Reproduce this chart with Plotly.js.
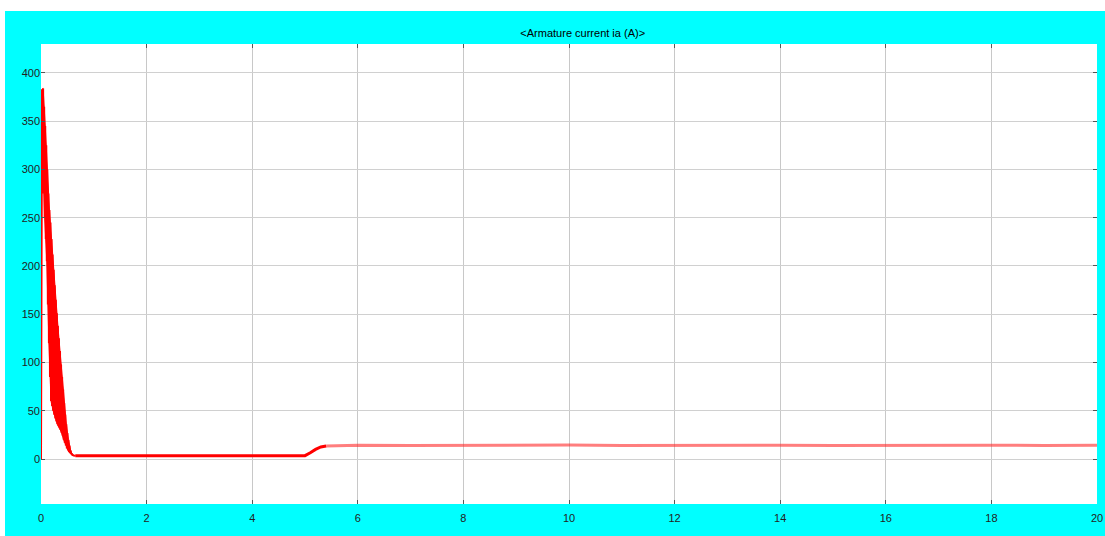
<!DOCTYPE html>
<html>
<head>
<meta charset="utf-8">
<script src="https://cdn.plot.ly/plotly-3.0.1.min.js"></script>
<style>
  html, body { margin: 0; padding: 0; background: #ffffff; width: 1105px; height: 536px; overflow: hidden; }
  #chart { position: absolute; left: 5px; top: 11px; width: 1100px; height: 525px; }
</style>
</head>
<body>
<div id="chart"></div>
<script>
// Start-up transient (dense oscillation between peaks and troughs), seconds / amperes
const tStart = [0, 0.005, 0.02, 0.03, 0.04, 0.05, 0.06, 0.07, 0.08, 0.09, 0.10, 0.11, 0.12, 0.13, 0.14, 0.15,
  0.16, 0.17, 0.18, 0.19, 0.20, 0.21, 0.22, 0.23, 0.24, 0.25, 0.26, 0.27, 0.28, 0.29, 0.30, 0.31,
  0.32, 0.33, 0.34, 0.35, 0.36, 0.37, 0.38, 0.39, 0.40, 0.41, 0.42, 0.43, 0.44, 0.45, 0.46, 0.47,
  0.48, 0.49, 0.50, 0.51, 0.52, 0.53, 0.54, 0.55, 0.56, 0.57, 0.58, 0.59, 0.60, 0.62, 0.65];
const iaStart = [0, 270, 383, 290, 384, 275, 365, 250, 345, 228, 325, 205, 300, 160, 275, 120,
  258, 85, 245, 60, 228, 55, 212, 50, 196, 46, 180, 42, 165, 39, 151, 36,
  138, 34, 125, 32, 112, 30, 98, 27, 85, 24, 72, 20, 58, 17, 46, 14,
  36, 11, 27, 9, 20, 7, 14, 6, 9, 5, 6, 4.5, 4, 3.6, 3.5];

// Envelope of the oscillation band (upper peaks / lower troughs)
const tEnvUp = [0.02, 0.04, 0.08, 0.12, 0.16, 0.20, 0.24, 0.28, 0.32, 0.36, 0.40, 0.44, 0.48, 0.52, 0.56, 0.60, 0.65];
const iaEnvUp = [383, 384, 345, 300, 258, 228, 196, 165, 138, 112, 85, 58, 36, 20, 9, 4, 3.5];
const tEnvLow = [0.02, 0.04, 0.07, 0.11, 0.15, 0.19, 0.23, 0.27, 0.31, 0.35, 0.39, 0.43, 0.47, 0.51, 0.55, 0.60, 0.65];
const iaEnvLow = [383, 300, 250, 205, 120, 60, 50, 42, 36, 32, 27, 20, 14, 9, 6, 4, 3.5];

// Flat period, load step at t = 5 s and steady level
const tMid = [0.65, 1, 2, 3, 4, 5.0, 5.1, 5.2, 5.3, 5.4];
const iaMid = [3.5, 3.5, 3.5, 3.5, 3.5, 3.5, 6.5, 10, 12.5, 13.5];

const tSteady = [5.4, 6, 7, 8, 9, 10, 11, 12, 13, 14, 15, 16, 17, 18, 19, 20];
const iaSteady = [13.5, 14.2, 14.0, 14.3, 14.1, 14.4, 14.0, 14.2, 14.1, 14.3, 14.0, 14.2, 14.1, 14.3, 14.0, 14.2];

const xTicks = [0, 2, 4, 6, 8, 10, 12, 14, 16, 18, 20];
const yTicks = [0, 50, 100, 150, 200, 250, 300, 350, 400];
const titleText = '<Armature current ia (A)>';

const traces = [
  { x: tEnvLow, y: iaEnvLow, type: 'scatter', mode: 'lines', line: { color: '#ff0000', width: 1 }, hoverinfo: 'skip' },
  { x: tEnvUp, y: iaEnvUp, type: 'scatter', mode: 'lines', line: { color: '#ff0000', width: 1 }, fill: 'tonexty', fillcolor: '#ff0000', hoverinfo: 'skip' },
  { x: tStart, y: iaStart, type: 'scatter', mode: 'lines', line: { color: '#ff0000', width: 2 }, hoverinfo: 'skip' },
  { x: tMid, y: iaMid, type: 'scatter', mode: 'lines', line: { color: '#ff0000', width: 3 }, hoverinfo: 'skip' },
  { x: tSteady, y: iaSteady, type: 'scatter', mode: 'lines', line: { color: 'rgba(255,40,40,0.6)', width: 3 }, hoverinfo: 'skip' }
];

const tickFont = { family: 'Liberation Sans, Arial, sans-serif', size: 11, color: '#222222' };

const layout = {
  width: 1100, height: 525,
  paper_bgcolor: '#00ffff',
  plot_bgcolor: '#ffffff',
  showlegend: false,
  margin: { l: 36, r: 8, t: 33, b: 32, pad: 0 },
  title: {
    text: titleText,
    font: { family: 'Liberation Sans, Arial, sans-serif', size: 11, color: '#000000' },
    x: 0.513, xanchor: 'center', xref: 'paper',
    y: 0.958, yanchor: 'middle', yref: 'container'
  },
  xaxis: {
    range: [0, 20], tickvals: xTicks, ticktext: xTicks.map(String),
    showgrid: true, gridcolor: '#c8c8c8', gridwidth: 1,
    zeroline: false, showline: false,
    ticks: 'inside', ticklen: 4, tickcolor: '#555555',
    tickfont: tickFont, mirror: 'ticks', ticklabelstandoff: 6
  },
  yaxis: {
    range: [-46.6, 430], tickvals: yTicks, ticktext: yTicks.map(String),
    showgrid: true, gridcolor: '#d0d0d0', gridwidth: 1,
    zeroline: false, showline: false,
    ticks: 'inside', ticklen: 4, tickcolor: '#555555',
    tickfont: tickFont, mirror: 'ticks'
  }
};

Plotly.newPlot('chart', traces, layout, { displayModeBar: false, staticPlot: true });
</script>
</body>
</html>
